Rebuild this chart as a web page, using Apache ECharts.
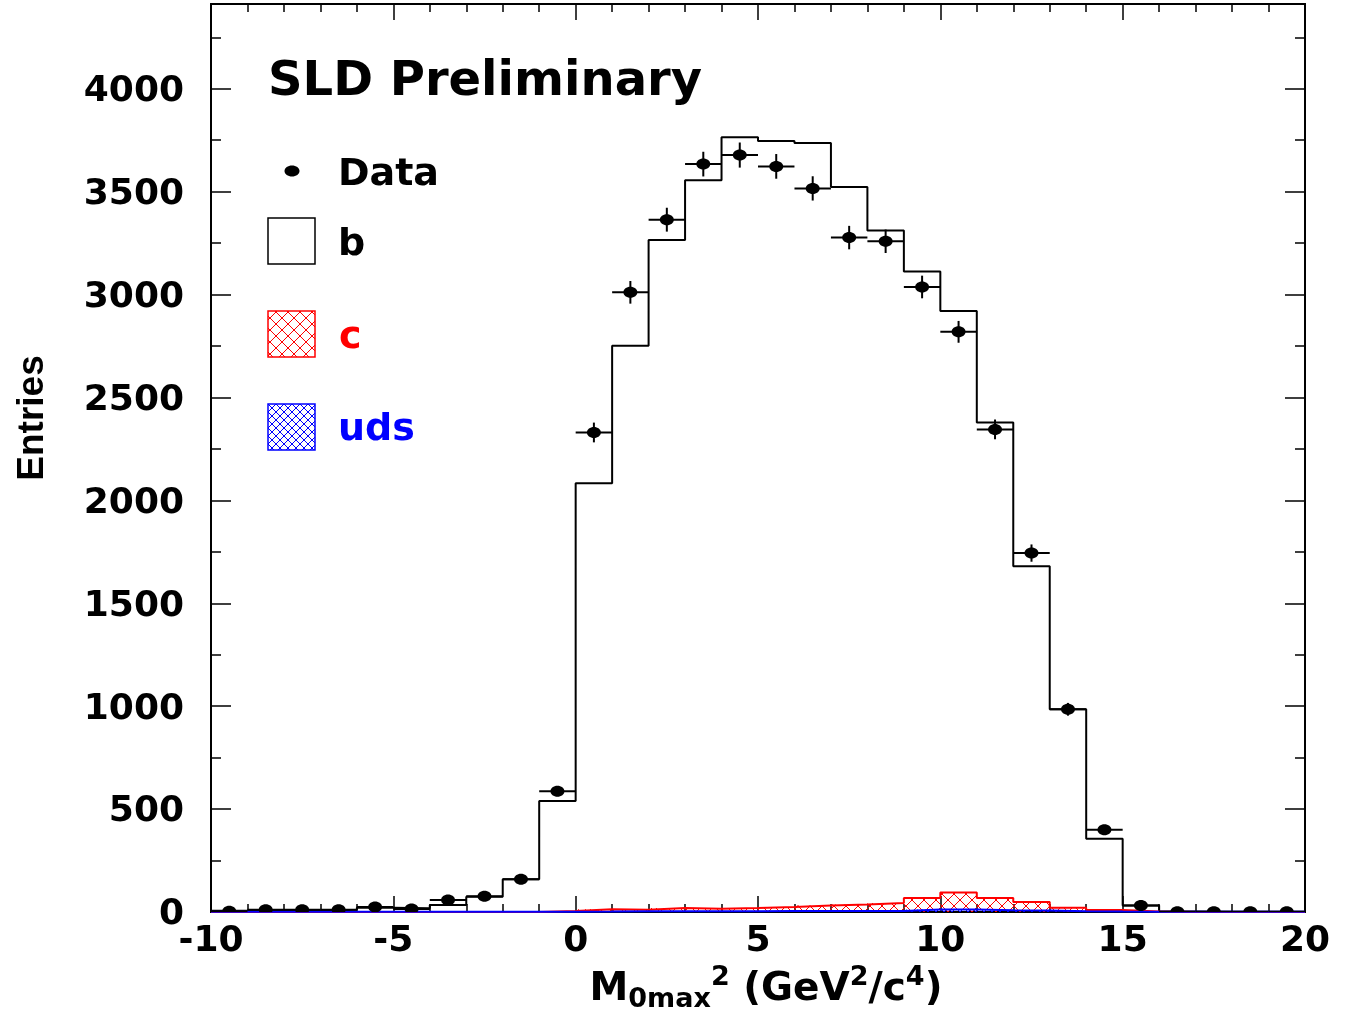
<!DOCTYPE html>
<html>
<head>
<meta charset="utf-8">
<script src="https://cdn.jsdelivr.net/npm/echarts@6/dist/echarts.min.js"></script>
<style>
html,body{margin:0;padding:0;background:#fff;}
#chart{width:1351px;height:1013px;}
</style>
</head>
<body>
<div id="chart"></div>
<script>
// ---- data ----
const binLow = [-10,-9,-8,-7,-6,-5,-4,-3,-2,-1,0,1,2,3,4,5,6,7,8,9,10,11,12,13,14,15,16,17,18,19];
const binWidth = 1;
const mcTotal = [6,6,6,11,21,18,34,74,159,539,2083,2752,3265,3555,3764,3746,3736,3523,3311,3112,2920,2379,1680,985,356,31,2,1,1,1];
const mcCharmTop = [0,0,0,0,0,0,0,0,0,5,13,11,19,16,19,24,32,37,44,68,95,68,49,21,10,2,0,0,0,0];
const mcUds = [1,1,1,1,1,1,1,1,1,1,2,4,4,4,4,5,5,5,5,12,12,9,7,4,2,1,1,1,1,1];
const dataX = [-9.5,-8.5,-7.5,-6.5,-5.5,-4.5,-3.5,-2.5,-1.5,-0.5,0.5,1.5,2.5,3.5,4.5,5.5,6.5,7.5,8.5,9.5,10.5,11.5,12.5,13.5,14.5,15.5,16.5,17.5,18.5,19.5];
const dataY = [4,11,11,11,24,15,58,76,159,587,2330,3011,3364,3634,3678,3623,3516,3277,3259,3037,2819,2345,1744,985,400,31,1,1,1,1];
const dataErr = [2,3,3,3,5,4,8,9,13,24,48,55,58,60,61,60,59,57,57,55,53,48,42,31,20,6,1,1,1,1];
const legendNames = ['Data','b','c','uds'];
const titleText = 'SLD Preliminary';

// ---- helpers ----
function hatchCanvas(color, s, lw) {
  const c = document.createElement('canvas');
  c.width = s; c.height = s;
  const g = c.getContext('2d');
  g.strokeStyle = color; g.lineWidth = lw;
  g.beginPath();
  g.moveTo(-1,-1); g.lineTo(s+1,s+1);
  g.moveTo(s+1,-1); g.lineTo(-1,s+1);
  g.stroke();
  return c;
}
const redHatch = {image: hatchCanvas('#ff0000', 12, 1), repeat: 'repeat'};
const blueHatch = {image: hatchCanvas('#0000ff', 8, 1), repeat: 'repeat'};

function stepData(vals) {
  const d = vals.map((v,i) => [binLow[i], v]);
  d.push([binLow[binLow.length-1] + binWidth, vals[vals.length-1]]);
  return d;
}
function hatchSeries(vals, pattern) {
  return {
    type: 'custom', silent: true, clip: true, z: 3,
    data: binLow.map((x,i) => [x, vals[i]]),
    encode: {x: 0, y: 1},
    renderItem: function (params, api) {
      const x0 = api.value(0), v = api.value(1);
      const p0 = api.coord([x0, 0]);
      const p1 = api.coord([x0 + binWidth, v]);
      return {type: 'rect',
        shape: {x: p0[0], y: p1[1], width: p1[0]-p0[0], height: p0[1]-p1[1]},
        style: {fill: pattern, stroke: null}};
    }
  };
}
function stepSeries(name, vals, color, z) {
  return {
    name: name, type: 'line', step: 'end', data: stepData(vals),
    symbol: 'none', showSymbol: false, silent: true, z: z,
    lineStyle: {color: color, width: 2}
  };
}

const labelFont = {fontFamily: 'DejaVu Sans', fontWeight: 'bold', fontSize: 36, color: '#000'};
const axisLineStyle = {show: true, onZero: false, lineStyle: {color: '#000', width: 2}};

function yAx(pos, interval, len, labels) {
  return {
    type: 'value', min: 0, max: 4412, interval: interval, position: pos,
    axisLine: axisLineStyle,
    axisTick: {show: true, inside: true, length: len, lineStyle: {color: '#000', width: 1.5}},
    splitLine: {show: false},
    axisLabel: labels ? Object.assign({show: true, margin: 27,
      formatter: v => (v % 500 === 0 ? '{v|' + v + '}' : ''),
      rich: {v: Object.assign({padding: [6,0,0,0]}, labelFont)}}, labelFont) : {show: false}
  };
}
function xAx(pos, labels) {
  return {
    type: 'value', min: -10, max: 20, interval: 5, position: pos,
    axisLine: axisLineStyle,
    axisTick: {show: true, inside: true, length: 16, lineStyle: {color: '#000', width: 1.5}},
    minorTick: {show: true, splitNumber: 5, length: 8, lineStyle: {color: '#000', width: 1.5}},
    splitLine: {show: false}, minorSplitLine: {show: false},
    axisLabel: labels ? Object.assign({show: true, margin: 12}, labelFont) : {show: false}
  };
}

const xMain = xAx('bottom', true);
xMain.name = '{a|M}{sub|0max}{sup|2}{a| (GeV}{sup|2}{a|/c}{sup|4}{a|)}';
xMain.nameLocation = 'middle';
xMain.nameGap = 46;
xMain.nameTextStyle = {
  padding: [0,0,0,16],
  rich: {
    a: {fontFamily: 'DejaVu Sans', fontWeight: 'bold', fontSize: 39, color: '#000', lineHeight: 49},
    sub: {fontFamily: 'DejaVu Sans', fontWeight: 'bold', fontSize: 27, color: '#000', lineHeight: 27, verticalAlign: 'bottom'},
    sup: {fontFamily: 'DejaVu Sans', fontWeight: 'bold', fontSize: 27, color: '#000', lineHeight: 27, verticalAlign: 'top'}
  }
};
const yMain = yAx('left', 500, 20, true);
yMain.name = 'Entries';
yMain.nameLocation = 'middle';
yMain.nameRotate = 90;
yMain.nameGap = 160;
yMain.nameTextStyle = {fontFamily: "'Liberation Sans'", fontWeight: 'bold', fontSize: 37, color: '#000', padding: [0,0,0,80]};

const tFont = 'bold 38px "DejaVu Sans"';
const option = {
  animation: false,
  backgroundColor: '#fff',
  grid: {left: 211, right: 46, top: 4, bottom: 101, containLabel: false, outerBoundsMode: 'none'},
  xAxis: [xMain, xAx('top', false)],
  yAxis: [yMain, yAx('right', 500, 20, false), yAx('left', 250, 10, false), yAx('right', 250, 10, false)],
  graphic: [
    {type: 'text', x: 268, y: 83, style: {text: titleText, font: 'bold 48px "DejaVu Sans"', fill: '#000', verticalAlign: 'middle'}},
    {type: 'ellipse', shape: {cx: 292, cy: 171, rx: 7.5, ry: 5.5}, style: {fill: '#000'}},
    {type: 'text', x: 338, y: 175, style: {text: legendNames[0], font: tFont, fill: '#000', verticalAlign: 'middle'}},
    {type: 'rect', shape: {x: 268, y: 218, width: 47, height: 46}, style: {fill: '#fff', stroke: '#000', lineWidth: 1.5}},
    {type: 'text', x: 338, y: 245, style: {text: legendNames[1], font: tFont, fill: '#000', verticalAlign: 'middle'}},
    {type: 'rect', shape: {x: 268, y: 311, width: 47, height: 46}, style: {fill: redHatch, stroke: '#ff0000', lineWidth: 1.5}},
    {type: 'text', x: 339, y: 338, style: {text: legendNames[2], font: tFont, fill: '#ff0000', verticalAlign: 'middle'}},
    {type: 'rect', shape: {x: 268, y: 404, width: 47, height: 46}, style: {fill: blueHatch, stroke: '#0000ff', lineWidth: 1.5}},
    {type: 'text', x: 338, y: 430, style: {text: legendNames[3], font: tFont, fill: '#0000ff', verticalAlign: 'middle'}}
  ],
  series: [
    stepSeries('b', mcTotal, '#000', 2),
    hatchSeries(mcCharmTop, redHatch),
    stepSeries('c', mcCharmTop, '#ff0000', 4),
    hatchSeries(mcUds, blueHatch),
    stepSeries('uds', mcUds, '#0000ff', 5),
    {
      name: 'Data', type: 'custom', silent: true, clip: true, z: 10,
      data: dataX.map((x,i) => [x, dataY[i], dataErr[i]]),
      encode: {x: 0, y: 1},
      renderItem: function (params, api) {
        const x = api.value(0), y = api.value(1), e = api.value(2);
        const p = api.coord([x, y]);
        const pl = api.coord([x - binWidth/2, y]);
        const pr = api.coord([x + binWidth/2, y]);
        const pt = api.coord([x, y + e]);
        const pb = api.coord([x, y - e]);
        return {type: 'group', children: [
          {type: 'line', shape: {x1: pl[0], y1: pl[1], x2: pr[0], y2: pr[1]}, style: {stroke: '#000', lineWidth: 2}},
          {type: 'line', shape: {x1: pt[0], y1: pt[1], x2: pb[0], y2: pb[1]}, style: {stroke: '#000', lineWidth: 2}},
          {type: 'ellipse', shape: {cx: p[0], cy: p[1], rx: 7, ry: 5.5}, style: {fill: '#000'}}
        ]};
      }
    }
  ]
};
const chart = echarts.init(document.getElementById('chart'), null, {renderer: 'canvas'});
chart.setOption(option);
</script>
</body>
</html>
